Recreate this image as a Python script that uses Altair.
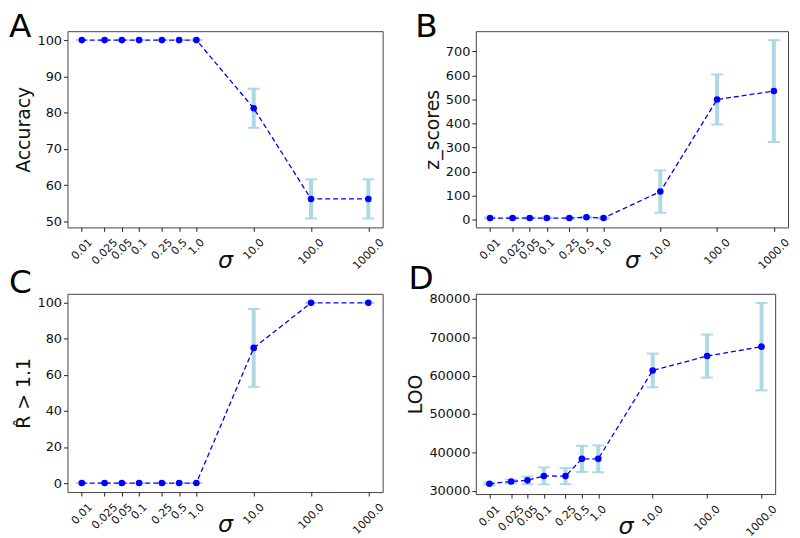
import altair as alt
import pandas as pd

# ---------------- data ----------------
sigma = [0.01, 0.025, 0.05, 0.1, 0.25, 0.5, 1.0, 10.0, 100.0, 1000.0]
x_labels = ["0.01", "0.025", "0.05", "0.1", "0.25", "0.5", "1.0", "10.0", "100.0", "1000.0"]

accuracy = [100, 100, 100, 100, 100, 100, 100, 81.2, 56.2, 56.2]
accuracy_err = [0, 0, 0, 0, 0, 0, 0, 5.4, 5.4, 5.4]

z_scores = [7, 7, 7, 7, 7, 10, 7, 117, 500, 535]
z_scores_err = [2, 2, 2, 2, 2, 2, 2, 88, 104, 212]

rhat = [0, 0, 0, 0, 0, 0, 0, 75, 100, 100]
rhat_err = [0, 0, 0, 0, 0, 0, 0, 21.6, 0, 0]

loo = [31800, 32400, 32700, 33850, 33800, 38300, 38300, 61350, 65100, 67550]
loo_err = [300, 500, 1000, 2200, 2100, 3400, 3500, 4400, 5600, 11400]

acc_ticks = [50, 60, 70, 80, 90, 100]
z_ticks = [0, 100, 200, 300, 400, 500, 600, 700]
rhat_ticks = [0, 20, 40, 60, 80, 100]
loo_ticks = [30000, 40000, 50000, 60000, 70000, 80000]

panel_letters = ["A", "B", "C", "D"]
y_titles = ["Accuracy", "z_scores", "R̂ > 1.1", "LOO"]

# ---------------- style ----------------
FONT = "DejaVu Sans"
BLUE = "#0000ff"
LIGHT = "#add8e6"
TXT = "#111111"
XLABEL_FS = 11
YLABEL_FS = 13

XDOM = [10 ** -2.25, 10 ** 3.25]


# centre the 45-degree rotated tick labels on their ticks (matplotlib style)
def _text_w(s, fs):
    w = 0.0
    for ch in s:
        w += 0.318 if ch == "." else 0.636
    return w * fs


x_label_expr = (
    "[" + ",".join("'%s'" % s for s in x_labels) + "]"
    + "[indexof([" + ",".join(repr(v) for v in sigma) + "], datum.value)]"
)
x_label_offset = {
    "condition": [
        {"test": "datum.value == %r" % v,
         "value": round(0.354 * (_text_w(s, XLABEL_FS) - XLABEL_FS) - 0.5, 2)}
        for v, s in zip(sigma, x_labels)
    ],
    "value": 0,
}


def panel(letter, values, errs, ticks, ytitle, w, h, letter_x, letter_y):
    lo = [v - e for v, e in zip(values, errs)]
    hi = [v + e for v, e in zip(values, errs)]
    df = pd.DataFrame({"sigma": sigma, "v": values, "lo": lo, "hi": hi})
    mn, mx = min(lo), max(hi)
    span = mx - mn
    ydom = [mn - 0.05 * span, mx + 0.05 * span]

    xaxis = alt.Axis(
        values=sigma,
        labelExpr=x_label_expr,
        labelAngle=-45,
        labelAlign="right",
        labelBaseline="top",
        labelOverlap=False,
        labelFlush=False,
        labelOffset=x_label_offset,
        labelFontSize=XLABEL_FS,
        labelPadding=5,
        title="σ",
        titleFontStyle="italic",
        titleFontSize=24,
        titleY=40,
        titleBaseline="alphabetic",
    )
    yaxis = alt.Axis(values=ticks, format="d", title=ytitle, titlePadding=3,
                     labelFontSize=YLABEL_FS, labelPadding=2)

    xs = alt.Scale(type="log", domain=XDOM, nice=False)
    ys = alt.Scale(domain=ydom, nice=False, zero=False)

    x = alt.X("sigma:Q", scale=xs, axis=xaxis)
    base = alt.Chart(df)

    bars = base.mark_rule(color=LIGHT, strokeWidth=4).encode(
        x=x, y=alt.Y("lo:Q", scale=ys, axis=yaxis), y2="hi:Q"
    )
    cap_lo = base.mark_tick(color=LIGHT, thickness=2, size=12, orient="horizontal", opacity=1).encode(
        x=x, y=alt.Y("lo:Q", scale=ys, axis=yaxis)
    )
    cap_hi = base.mark_tick(color=LIGHT, thickness=2, size=12, orient="horizontal", opacity=1).encode(
        x=x, y=alt.Y("hi:Q", scale=ys, axis=yaxis)
    )
    line = base.mark_line(color=BLUE, strokeDash=[5, 3], strokeWidth=1.3).encode(
        x=x, y=alt.Y("v:Q", scale=ys, axis=yaxis)
    )
    pts = base.mark_circle(color=BLUE, size=44, opacity=1).encode(
        x=x, y=alt.Y("v:Q", scale=ys, axis=yaxis)
    )
    tag = alt.Chart(pd.DataFrame({"t": [letter]})).mark_text(
        align="left", baseline="top", fontSize=33, font=FONT, color="#000000"
    ).encode(x=alt.value(letter_x), y=alt.value(letter_y), text="t:N")
    return alt.layer(bars, cap_lo, cap_hi, line, pts, tag).properties(width=w, height=h)


pA = panel(panel_letters[0], accuracy, accuracy_err, acc_ticks, y_titles[0], 318, 198, -59, -20)
pB = panel(panel_letters[1], z_scores, z_scores_err, z_ticks, y_titles[1], 315, 198, -61, -20)
pC = panel(panel_letters[2], rhat, rhat_err, rhat_ticks, y_titles[2], 318, 200, -59, -27)
pD = panel(panel_letters[3], loo, loo_err, loo_ticks, y_titles[3], 302, 202, -68, -31)

chart = (
    alt.concat(pA, pB, pC, pD, columns=2, spacing={"row": -11, "column": 20})
    .properties(padding={"left": 0, "top": 0, "right": 0, "bottom": 0})
    .configure_view(stroke="#444444", strokeWidth=1)
    .configure_axis(
        domain=False,
        grid=False,
        ticks=True,
        tickColor="#222222",
        tickSize=4,
        tickWidth=1,
        labelFont=FONT,
        labelColor=TXT,
        titleFont=FONT,
        titleFontSize=19,
        titleFontWeight="normal",
        titleColor=TXT,
    )
)

chart.save("out.html", embed_options={"renderer": "svg", "actions": False})
